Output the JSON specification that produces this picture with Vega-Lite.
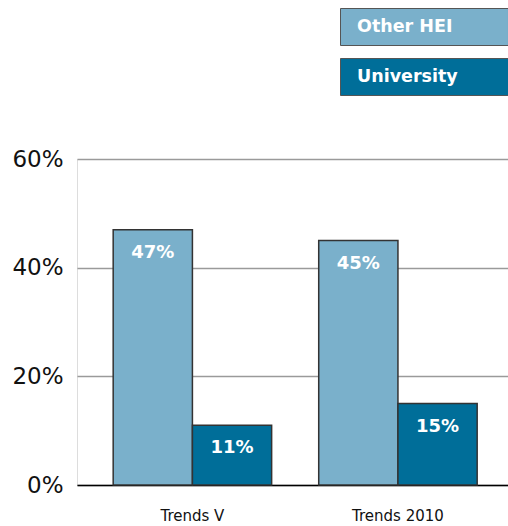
{
  "$schema": "https://vega.github.io/schema/vega-lite/v6.json",
  "autosize": {"type": "none"},
  "padding": {"left": 77, "top": 159, "right": 0, "bottom": 41},
  "width": 431,
  "height": 326,
  "background": "white",
  "data": {
    "values": [
      {"survey": "Trends V", "type": "Other HEI", "share": 0.47},
      {"survey": "Trends V", "type": "University", "share": 0.11},
      {"survey": "Trends 2010", "type": "Other HEI", "share": 0.45},
      {"survey": "Trends 2010", "type": "University", "share": 0.15}
    ]
  },
  "encoding": {
    "x": {
      "field": "survey", "type": "nominal", "sort": ["Trends V", "Trends 2010"],
      "scale": {"paddingInner": 0.229, "paddingOuter": 0.163, "align": 0.54},
      "axis": {
        "title": null, "labelAngle": 0, "ticks": false,
        "domain": true, "domainColor": "#000000", "domainWidth": 1.5,
        "labelFont": "DejaVu Sans", "labelFontSize": 15, "labelColor": "#111111",
        "labelPadding": 23, "grid": false
      }
    },
    "xOffset": {"field": "type", "type": "nominal", "scale": {"paddingInner": 0, "paddingOuter": 0}},
    "y": {
      "field": "share", "type": "quantitative",
      "scale": {"domain": [0, 0.6], "nice": false},
      "axis": {
        "title": null, "values": [0, 0.2, 0.4, 0.6], "format": ".0%",
        "domain": false, "ticks": false, "grid": true,
        "gridColor": "#9a9a9a", "gridWidth": 1.5,
        "labelFont": "DejaVu Sans", "labelFontSize": 23, "labelColor": "#111111",
        "labelPadding": 14
      }
    }
  },
  "layer": [
    {
      "mark": {"type": "bar", "stroke": "#333333", "strokeWidth": 1.5},
      "encoding": {
        "color": {
          "field": "type", "type": "nominal",
          "scale": {"domain": ["Other HEI", "University"], "range": ["#7ab0cb", "#006e99"]},
          "legend": {
            "orient": "none", "legendX": 328.5, "legendY": -151,
            "direction": "vertical", "title": null, "padding": 0, "offset": 0,
            "rowPadding": 8,
            "symbolType": "M-4.54,-1L4.54,-1L4.54,1L-4.54,1Z",
            "symbolSize": 1369, "symbolOpacity": 1,
            "symbolStrokeColor": "#555555", "symbolStrokeWidth": 1,
            "symbolOffset": 0,
            "labelOffset": -86.5, "labelFont": "DejaVu Sans", "labelFontSize": 17.5,
            "labelFontWeight": "bold", "labelColor": "#ffffff", "labelLimit": 0
          }
        }
      }
    },
    {
      "mark": {"type": "text", "color": "#ffffff", "font": "DejaVu Sans", "fontSize": 18, "fontWeight": "bold", "baseline": "middle", "dy": 23},
      "encoding": {
        "text": {"field": "share", "type": "quantitative", "format": ".0%"}
      }
    }
  ]
}
